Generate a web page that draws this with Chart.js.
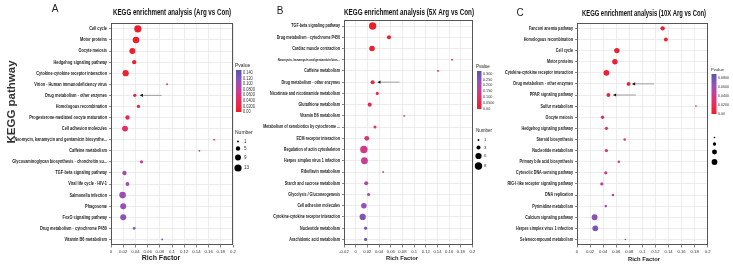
<!DOCTYPE html>
<html><head><meta charset="utf-8">
<script src="https://cdn.jsdelivr.net/npm/chart.js@4.4.1/dist/chart.umd.min.js"></script>
<style>
html,body{margin:0;padding:0;background:#fff;}
#wrap{position:relative;width:733px;height:266px;overflow:hidden;background:#fff;}
#wrap canvas{position:absolute;left:0;top:0;}
</style></head><body>
<div id="wrap">
<canvas id="cA" width="733" height="266" style="width:733px;height:266px"></canvas>
<canvas id="cB" width="733" height="266" style="width:733px;height:266px"></canvas>
<canvas id="cC" width="733" height="266" style="width:733px;height:266px"></canvas>
</div>
<script>
// ---------------- DATA ----------------
const pathwaysA = ["Cell cycle","Motor proteins","Oocyte meiosis","Hedgehog signaling pathway","Cytokine-cytokine receptor interaction","Virion - Human immunodeficiency virus","Drug metabolism - other enzymes","Homologous recombination","Progesterone-mediated oocyte maturation","Cell adhesion molecules","Neomycin, kanamycin and gentamicin biosynthe...","Caffeine metabolism","Glycosaminoglycan biosynthesis - chondroitin su...","TGF-beta signaling pathway","Viral life cycle - HIV-1","Salmonella infection","Phagosome","FoxO signaling pathway","Drug metabolism - cytochrome P450","Vitamin B6 metabolism"];
const richFactorA = [0.044,0.041,0.035,0.038,0.024,0.092,0.039,0.045,0.027,0.023,0.169,0.145,0.050,0.022,0.027,0.019,0.020,0.020,0.038,0.084];
const countA = [13,11,9,5,10,1,3,3,5,9,1,1,3,5,4,11,9,9,2,1];
const pvalueA = [0.001,0.002,0.004,0.006,0.008,0.012,0.014,0.02,0.03,0.045,0.06,0.065,0.08,0.095,0.1,0.105,0.11,0.112,0.125,0.135];
const pTicksA = [0.14,0.12,0.10,0.08,0.06,0.04,0.02,0];
const pTickLabelsA = ["0.140","0.120","0.100","0.0800","0.0600","0.0400","0.0200","0.00"];
const numTicksA = [1,5,9,13];

const pathwaysB = ["TGF-beta signaling pathway","Drug metabolism - cytochrome P450","Cardiac muscle contraction","Neomycin, kanamycin and gentamicin bios...","Caffeine metabolism","Drug metabolism - other enzymes","Nicotinate and nicotinamide metabolism","Glutathione metabolism","Vitamin B6 metabolism","Metabolism of xenobiotics by cytochrome ...","ECM-receptor interaction","Regulation of actin cytoskeleton","Herpes simplex virus 1 infection","Riboflavin metabolism","Starch and sucrose metabolism","Glycolysis / Gluconeogenesis","Cell adhesion molecules","Cytokine-cytokine receptor interaction","Nucleotide metabolism","Arachidonic acid metabolism"];
const richFactorB = [0.029,0.057,0.028,0.165,0.141,0.029,0.037,0.024,0.083,0.033,0.019,0.014,0.015,0.047,0.018,0.022,0.014,0.012,0.017,0.017];
const countB = [8,3,5,1,1,3,2,3,1,2,4,8,7,1,3,2,5,6,2,2];
const pvalueB = [0.001,0.004,0.008,0.03,0.035,0.04,0.06,0.07,0.08,0.1,0.12,0.14,0.16,0.17,0.19,0.21,0.23,0.26,0.28,0.30];
const pTicksB = [0.30,0.25,0.20,0.15,0.10,0.05,0];
const pTickLabelsB = ["0.300","0.250","0.200","0.150","0.100","0.0500","0.00"];
const numTicksB = [1,3,6,8];

const pathwaysC = ["Fanconi anemia pathway","Homologous recombination","Cell cycle","Motor proteins","Cytokine-cytokine receptor interaction","Drug metabolism - other enzymes","PPAR signaling pathway","Sulfur metabolism","Oocyte meiosis","Hedgehog signaling pathway","Steroid biosynthesis","Nucleotide metabolism","Primary bile acid biosynthesis","Cytosolic DNA-sensing pathway","RIG-I-like receptor signaling pathway","DNA replication","Pyrimidine metabolism","Calcium signaling pathway","Herpes simplex virus 1 infection","Selenocompound metabolism"];
const richFactorC = [0.131,0.136,0.061,0.058,0.045,0.079,0.048,0.182,0.039,0.045,0.073,0.045,0.064,0.044,0.038,0.055,0.044,0.027,0.028,0.074];
const countC = [5,4,7,7,8,4,4,1,3,3,2,3,2,3,3,2,2,8,8,1];
const pvalueC = [0.001,0.002,0.003,0.004,0.005,0.007,0.009,0.015,0.018,0.03,0.032,0.035,0.04,0.043,0.05,0.055,0.058,0.068,0.072,0.08];
const pTicksC = [0.08,0.06,0.04,0.02,0];
const pTickLabelsC = ["0.0800","0.0600","0.0400","0.0200","0.00"];
const numTicksC = [1,3,6,8];

// arrows: [pathway, tail rich factor, head rich factor]
const arrowsA = [["Drug metabolism - other enzymes",0.083,0.047]];
const arrowsB = [["Drug metabolism - other enzymes",0.075,0.037]];
const arrowsC = [["Drug metabolism - other enzymes",0.118,0.084],["PPAR signaling pathway",0.090,0.055]];

const titles = ["KEGG enrichment analysis (Arg vs Con)","KEGG enrichment analysis (5X Arg vs Con)","KEGG enrichment analysis (10X Arg vs Con)"];
const panelLetters = ["A","B","C"];

// ---------------- STYLE ----------------
const SANS = "'Liberation Sans',Arial,sans-serif";
const STOPS = [[0,[238,30,40]],[0.3,[226,48,100]],[0.5,[200,62,150]],[0.72,[150,80,185]],[1,[86,86,176]]];
function pcolor(t){
  t = Math.max(0, Math.min(1, t));
  for (let i = 1; i < STOPS.length; i++) {
    if (t <= STOPS[i][0]) {
      const [t0,c0] = STOPS[i-1], [t1,c1] = STOPS[i];
      const f = (t - t0) / (t1 - t0);
      return 'rgb(' + c0.map((c,k)=>Math.round(c + (c1[k]-c)*f)).join(',') + ')';
    }
  }
  return 'rgb(' + STOPS[STOPS.length-1][1].join(',') + ')';
}
function makeRadius(rmin, rmax, nmax){
  return n => rmin + (rmax - rmin) * (Math.sqrt(n) - 1) / (Math.sqrt(nmax) - 1);
}
function fmtTick(v){ return (+v.toFixed(2)).toString(); }

// condensed text (narrow face emulation)
function narrowText(ctx, text, x, y, k){
  const w = ctx.measureText(text).width;
  ctx.fillText(text, x, y, w * k);
}

const deco = {
  id: 'deco',
  afterDraw(chart, args, o) {
    const ctx = chart.ctx, ca = chart.chartArea;
    const xs = chart.scales.x, ys = chart.scales.y;
    ctx.save();
    // frame
    ctx.strokeStyle = '#555'; ctx.lineWidth = 1;
    ctx.strokeRect(Math.round(ca.left)+0.5, Math.round(ca.top)+0.5, Math.round(ca.right-ca.left)-1, Math.round(ca.bottom-ca.top)-1);
    // y category labels (condensed)
    ctx.fillStyle = '#1a1a1a'; ctx.textAlign = 'right'; ctx.textBaseline = 'middle';
    ys.ticks.forEach((t, i) => {
      const lab = ys.getLabelForValue(t.value);
      const small = (o.smallIdx === i);
      ctx.font = 'bold ' + (small ? o.yFont * 0.8 : o.yFont) + 'px ' + SANS;
      narrowText(ctx, lab, ca.left - 4, ys.getPixelForTick(i), o.yStretch);
    });
    // arrows
    o.arrows.forEach(a => {
      const y = ys.getPixelForValue(o.cats.indexOf(a[0]));
      const x1 = xs.getPixelForValue(a[1]), x2 = xs.getPixelForValue(a[2]);
      ctx.strokeStyle = '#8a8a8a'; ctx.lineWidth = 0.8;
      ctx.beginPath(); ctx.moveTo(x1, y); ctx.lineTo(x2 + 2, y); ctx.stroke();
      ctx.fillStyle = '#111';
      ctx.beginPath(); ctx.moveTo(x2, y); ctx.lineTo(x2 + 3.2, y - 1.6); ctx.lineTo(x2 + 3.2, y + 1.6); ctx.closePath(); ctx.fill();
    });
    // panel letter
    ctx.fillStyle = '#222'; ctx.textAlign = 'center'; ctx.textBaseline = 'middle';
    ctx.font = '10px ' + SANS;
    ctx.fillText(o.letter[0], o.letter[1], o.letter[2]);
    // title
    ctx.fillStyle = '#111';
    ctx.font = 'bold ' + o.title[4] + 'px ' + SANS;
    ctx.fillText(o.title[0], o.title[1], o.title[2], o.title[3]);
    // x title
    ctx.font = 'bold ' + o.xTitle[3] + 'px ' + SANS;
    ctx.fillStyle = '#222';
    ctx.fillText('Rich Factor', o.xTitle[0], o.xTitle[1], o.xTitle[2]);
    // y title
    if (o.yTitle) {
      ctx.save();
      ctx.translate(o.yTitle[0], o.yTitle[1]);
      ctx.rotate(-Math.PI/2);
      ctx.font = 'bold 11.5px ' + SANS;
      ctx.fillStyle = '#333';
      ctx.fillText('KEGG pathway', 0, 0);
      ctx.restore();
    }
    // colour legend
    const L = o.legend;
    ctx.textAlign = 'left';
    ctx.fillStyle = '#222';
    ctx.font = L.titleFont + 'px ' + SANS;
    ctx.fillText('Pvalue', L.titleX, L.titleY);
    const top = L.barY, bot = L.barY + L.barH;
    const g = ctx.createLinearGradient(0, bot, 0, top);
    STOPS.forEach(s => g.addColorStop(s[0], 'rgb(' + s[1].join(',') + ')'));
    ctx.fillStyle = g;
    ctx.fillRect(L.barX, top, L.barW, L.barH);
    ctx.fillStyle = '#333';
    ctx.font = L.labFont + 'px ' + SANS;
    o.pTicks.forEach((v, i) => {
      const y = bot - v / o.pmax * L.barH;
      narrowText(ctx, o.pLabels[i], L.barX + L.barW + 1.5, y, 0.85);
    });
    // size legend
    if (L.numTitle) {
      ctx.font = L.titleFont + 'px ' + SANS;
      ctx.fillStyle = '#222';
      ctx.fillText('Number', L.titleX, L.numTitleY);
    }
    o.numTicks.forEach((n, i) => {
      ctx.fillStyle = '#000';
      ctx.beginPath(); ctx.arc(L.dotX, L.dotYs[i], o.radius(n), 0, Math.PI*2); ctx.fill();
      if (L.numLabels) {
        ctx.fillStyle = '#333';
        ctx.font = L.labFont + 'px ' + SANS;
        ctx.fillText(String(n), L.numLabX, L.dotYs[i]);
      }
    });
    ctx.restore();
  }
};

function makeChart(id, p) {
  const radius = makeRadius(p.rmin, p.rmax, p.nmax);
  return new Chart(document.getElementById(id), {
    type: 'bubble',
    data: { datasets: [{
      data: p.cats.map((c, i) => ({ x: p.rich[i], y: c, r: radius(p.count[i]) })),
      backgroundColor: p.pvals.map(v => pcolor(v / p.pmax)),
      borderWidth: 0,
      hoverRadius: 0,
      clip: false
    }]},
    options: {
      responsive: false, animation: false, events: [],
      layout: { padding: { left: 0, top: p.area.top, right: 733 - p.area.right, bottom: 0 } },
      plugins: {
        legend: { display: false }, tooltip: { enabled: false }, title: { display: false },
        deco: {
          cats: p.cats, arrows: p.arrows, letter: p.letter, title: p.title, xTitle: p.xTitle, yTitle: p.yTitle,
          legend: p.legend, pTicks: p.pTicks, pLabels: p.pLabels, pmax: p.pmax, numTicks: p.numTicks, radius: radius,
          yFont: p.yTickFont, yStretch: p.yStretch, smallIdx: p.smallIdx
        }
      },
      scales: {
        x: {
          type: 'linear', min: p.xmin, max: 0.2,
          ticks: { stepSize: 0.02, font: { size: p.xTickFont, family: SANS }, color: '#333', padding: 1.5, maxRotation: 0, autoSkip: false, callback: v => fmtTick(v) },
          grid: { color: '#e4e4e4', lineWidth: 0.7, tickLength: 2.5, tickColor: '#555', drawOnChartArea: true },
          border: { display: false },
          afterFit: s => { s.height = 266 - p.area.bottom; }
        },
        y: {
          type: 'category', labels: p.cats, offset: true,
          ticks: { display: false, autoSkip: false },
          grid: { offset: false, color: '#e4e4e4', lineWidth: 0.7, tickLength: 2, tickColor: '#555' },
          border: { display: false },
          afterFit: s => { s.width = p.area.left; }
        }
      }
    },
    plugins: [deco]
  });
}

makeChart('cA', {
  cats: pathwaysA, rich: richFactorA, count: countA, pvals: pvalueA, pmax: 0.15,
  pTicks: pTicksA, pLabels: pTickLabelsA, numTicks: numTicksA, arrows: arrowsA,
  rmin: 0.9, rmax: 3.6, nmax: 13, xmin: 0,
  area: { left: 111, right: 233, top: 23.3, bottom: 245 },
  letter: [panelLetters[0], 55, 9], title: [titles[0], 172, 13, 118, 8.5],
  xTitle: [161, 258.5, 60, 7], yTitle: [12, 102],
  xTickFont: 4.3, yTickFont: 5.3, yStretch: 0.73, smallIdx: -1,
  legend: { titleX: 235, titleY: 66, titleFont: 5, barX: 236, barY: 70, barW: 5.5, barH: 42, labFont: 4.6,
            numTitle: true, numTitleY: 133, dotX: 238, dotYs: [141.5, 148.5, 157.5, 168], numLabels: true, numLabX: 244 }
});
makeChart('cB', {
  cats: pathwaysB, rich: richFactorB, count: countB, pvals: pvalueB, pmax: 0.32,
  pTicks: pTicksB, pLabels: pTickLabelsB, numTicks: numTicksB, arrows: arrowsB,
  rmin: 0.9, rmax: 3.7, nmax: 8, xmin: -0.02,
  area: { left: 344, right: 472.5, top: 20.4, bottom: 245 },
  letter: [panelLetters[1], 280, 11], title: [titles[1], 409, 13, 130, 8.5],
  xTitle: [402, 258.5, 36, 5.8], yTitle: null,
  xTickFont: 4.2, yTickFont: 5.0, yStretch: 0.73, smallIdx: 3,
  legend: { titleX: 476, titleY: 67, titleFont: 4.5, barX: 477, barY: 71, barW: 4.5, barH: 38, labFont: 4.4,
            numTitle: true, numTitleY: 131, dotX: 478.5, dotYs: [140, 147.5, 156, 166], numLabels: true, numLabX: 484 }
});
makeChart('cC', {
  cats: pathwaysC, rich: richFactorC, count: countC, pvals: pvalueC, pmax: 0.088,
  pTicks: pTicksC, pLabels: pTickLabelsC, numTicks: numTicksC, arrows: arrowsC,
  rmin: 0.8, rmax: 2.9, nmax: 8, xmin: 0,
  area: { left: 577, right: 707.7, top: 22.8, bottom: 245 },
  letter: [panelLetters[2], 520, 13], title: [titles[2], 644, 13.5, 124, 8.5],
  xTitle: [644, 259, 32, 6], yTitle: null,
  xTickFont: 4.2, yTickFont: 5.1, yStretch: 0.73, smallIdx: -1,
  legend: { titleX: 711, titleY: 70, titleFont: 4.2, barX: 711.5, barY: 74, barW: 5, barH: 40, labFont: 4.2,
            numTitle: false, dotX: 714.5, dotYs: [137.5, 144, 152, 162], numLabels: false }
});
</script>
</body></html>
